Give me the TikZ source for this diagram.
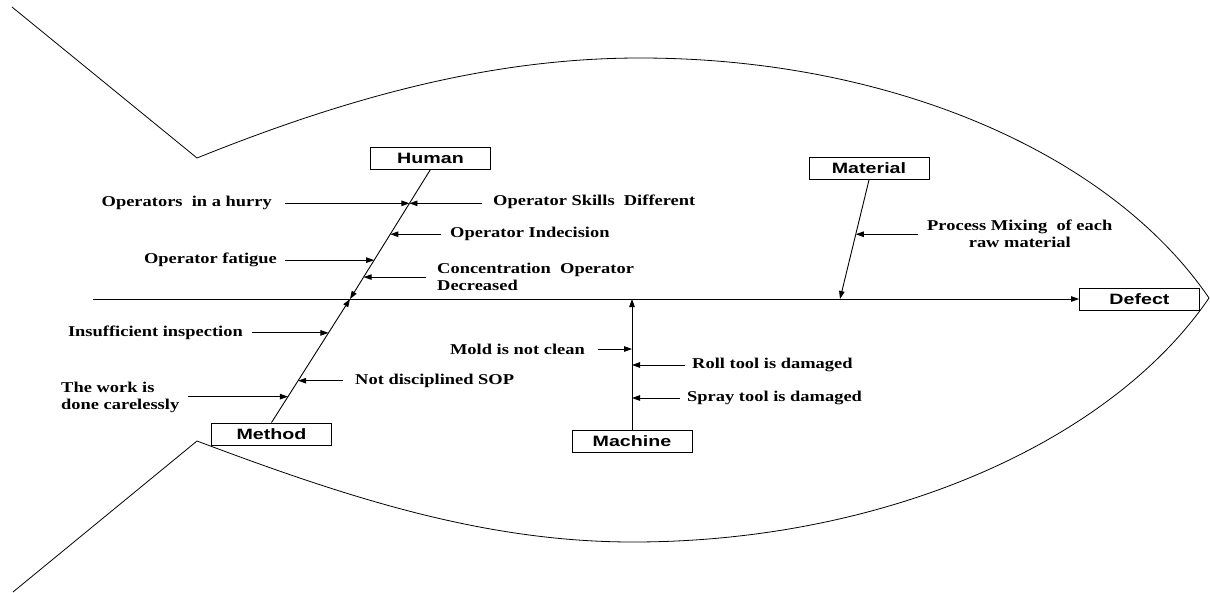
\documentclass[tikz,border=0pt]{standalone}
\usepackage{fontspec}
\usetikzlibrary{arrows.meta,calc}
\newfontfamily\lblfont[FakeStretch=1.23]{Liberation Serif}
\newfontfamily\boxfont[FakeStretch=1.31]{Liberation Sans}
\begin{document}
\begin{tikzpicture}[x=1pt,y=-1pt,
  lbl/.style={font=\lblfont\bfseries\fontsize{15}{17}\selectfont, inner sep=0pt, align=left},
  cat/.style={draw, line width=0.9pt, font=\boxfont\bfseries\fontsize{15}{17}\selectfont, minimum width=120pt, minimum height=22pt, inner sep=0pt},
  bone/.style={line width=0.9pt},
  arr/.style={line width=0.9pt, -{Triangle[length=8pt,width=5.5pt]}},
  outline/.style={line width=0.8pt}]
\useasboundingbox (0,0) rectangle (1210,592);
% fish outline
\draw[outline] (12,7) -- (197,158) .. controls (346,98) and (490,58) .. (640,58)
  .. controls (890,58) and (1110,153) .. (1209,298)
  .. controls (1110,443) and (883,542) .. (633,542)
  .. controls (483,542) and (346,497) .. (197,441) -- (13,592);
% category boxes
\node[cat] (human) at (430.5,158) {Human};
\node[cat] (material) at (869,168.5) {Material};
\node[cat] (defect) at (1139.5,299) {Defect};
\node[cat] (method) at (271.5,434) {Method};
\node[cat] (machine) at (632,441) {Machine};
% spine
\coordinate (tail) at (93,299);
\draw[arr] (tail) -- (defect.west);
% bones
\coordinate (hj) at (350,299);
\coordinate (macj) at (632,299);
\coordinate (matj) at (840,299);
\draw[arr] (human.south) -- (hj);
\draw[arr] (method.north) -- (hj);
\draw[arr] (machine.north) -- (macj);
\draw[arr] (material.south) -- (matj);
% tips on bones
\coordinate (t1) at ($(human.south)!0.2615!(hj)$);
\coordinate (t2) at ($(human.south)!0.2615!(hj)$);
\coordinate (t3) at ($(human.south)!0.5!(hj)$);
\coordinate (t4) at ($(human.south)!0.7!(hj)$);
\coordinate (t5) at ($(human.south)!0.8308!(hj)$);
\coordinate (t6) at ($(method.north)!0.7258!(hj)$);
\coordinate (t7) at ($(method.north)!0.3387!(hj)$);
\coordinate (t8) at ($(method.north)!0.2097!(hj)$);
\coordinate (t9) at (632,349);
\coordinate (t10) at (632,365);
\coordinate (t11) at (632,398);
\coordinate (t12) at ($(material.south)!0.456!(matj)$);
% labels
\node[lbl, anchor=east] (l1) at (272,203) {Operators~ in a hurry};
\node[lbl, anchor=west] (l2) at (493,202) {Operator Skills~ Different};
\node[lbl, anchor=west] (l3) at (450,234) {Operator Indecision};
\node[lbl, anchor=east] (l4) at (277,260) {Operator fatigue};
\node[lbl, anchor=west] (l5) at (437,277) {Concentration~ Operator\\Decreased};
\node[lbl, anchor=east] (l6) at (243,333) {Insufficient inspection};
\node[lbl, anchor=west] (l7) at (355,381) {Not disciplined SOP};
\node[lbl, anchor=west] (l8) at (61,397.5) {The work is\\done carelessly};
\node[lbl, anchor=east] (l9) at (585,349) {Mold is not clean};
\node[lbl, anchor=west] (l10) at (692,365) {Roll tool is damaged};
\node[lbl, anchor=west] (l11) at (687,398) {Spray tool is damaged};
\node[lbl, anchor=west, align=center] (l12) at (927,233.5) {Process Mixing~ of each\\raw material};
% cause arrows
\draw[arr, shorten <=13pt] (l1.east |- t1) -- (t1);
\draw[arr, shorten <=11pt] (l2.west |- t2) -- (t2);
\draw[arr, shorten <=9pt] (l3.west |- t3) -- (t3);
\draw[arr, shorten <=8pt] (l4.east |- t4) -- (t4);
\draw[arr, shorten <=11pt] (l5.west |- t5) -- (t5);
\draw[arr, shorten <=9pt] (l6.east |- t6) -- (t6);
\draw[arr, shorten <=12pt] (l7.west |- t7) -- (t7);
\draw[arr, shorten <=9pt] (l8.east |- t8) -- (t8);
\draw[arr, shorten <=13pt] (l9.east |- t9) -- (t9);
\draw[arr, shorten <=7pt] (l10.west |- t10) -- (t10);
\draw[arr, shorten <=7pt] (l11.west |- t11) -- (t11);
\draw[arr, shorten <=9pt] (l12.west |- t12) -- (t12);
\end{tikzpicture}
\end{document}
